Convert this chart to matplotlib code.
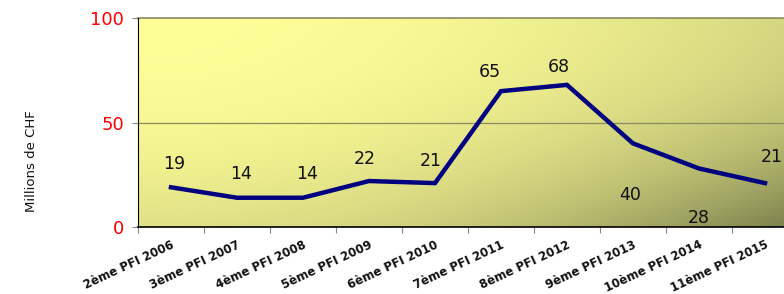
import numpy as np
import matplotlib
matplotlib.use("Agg")
import matplotlib.pyplot as plt

categories = ["2ème PFI 2006", "3ème PFI 2007", "4ème PFI 2008", "5ème PFI 2009",
              "6ème PFI 2010", "7ème PFI 2011", "8ème PFI 2012", "9ème PFI 2013",
              "10ème PFI 2014", "11ème PFI 2015"]
values = [19, 14, 14, 22, 21, 65, 68, 40, 28, 21]
# label placement: (dx points, dy points)
label_offsets = [(2, 17), (3, 17), (3, 17), (-3, 16), (-3, 16), (-8, 14), (-6, 13),
                 (-2, -37), (0, -36), (5, 19)]

fig = plt.figure(figsize=(7.84, 2.94), dpi=100)
ax = fig.add_axes([138 / 784, 1 - 227 / 294, 660 / 784, 209 / 294])

n = len(categories)
x = np.arange(n)
ax.set_xlim(-0.5, n - 0.5)
ax.set_ylim(0, 100)

# gradient background, light top-left, darkest in bottom-right corner
gx, gy = np.meshgrid(np.linspace(0, 1, 200), np.linspace(0, 1, 100))
t = np.clip(0.33 * gx ** 2 + 0.23 * gy ** 2 + 0.44 * (gx * gy) ** 2, 0, 1)
c0 = np.array([255, 255, 152]) / 255
c1 = np.array([122, 126, 76]) / 255
img = c0[None, None, :] * (1 - t[..., None]) + c1[None, None, :] * t[..., None]
ax.imshow(img, extent=[-0.5, n - 0.5, 0, 100], origin="upper", aspect="auto", zorder=0)

ax.axhline(50, color="#8a8a60", lw=0.9, zorder=1)
ax.axhline(100, color="#8a8a60", lw=1.2, zorder=1, clip_on=False)

ax.plot(x, values, color="#000080", lw=3.2, solid_joinstyle="miter", zorder=3)

for xi, v, (dx, dy) in zip(x, values, label_offsets):
    ax.annotate(str(v), (xi, v), xytext=(dx, dy), textcoords="offset points",
                ha="center", va="center", fontsize=12.5, color="#111111", zorder=4)

for s in ["top", "right"]:
    ax.spines[s].set_visible(False)
ax.spines["left"].set_color("black")
ax.spines["bottom"].set_color("black")
ax.spines["bottom"].set_linewidth(1.2)

ax.set_yticks([0, 50, 100])
ax.set_yticklabels(["0", "50", "100"], color="red", fontsize=13)
ax.tick_params(axis="y", length=4, color="#888888", pad=6)

ax.set_xticks(np.arange(n + 1) - 0.5)
ax.set_xticklabels([])
ax.set_xticks(x, minor=True)
ax.set_xticklabels(categories, minor=True, rotation=25, ha="right",
                   rotation_mode="anchor", fontsize=8.5, fontweight="bold", color="#111111")
ax.tick_params(axis="x", which="major", length=4, color="#888888")
ax.tick_params(axis="x", which="minor", length=0, pad=8)

fig.text(32 / 784, 1 - 161 / 294, "Millions de CHF", rotation=90, ha="center", va="center",
         fontsize=9.5, color="#111111")

fig.savefig("out.png", dpi=100)
